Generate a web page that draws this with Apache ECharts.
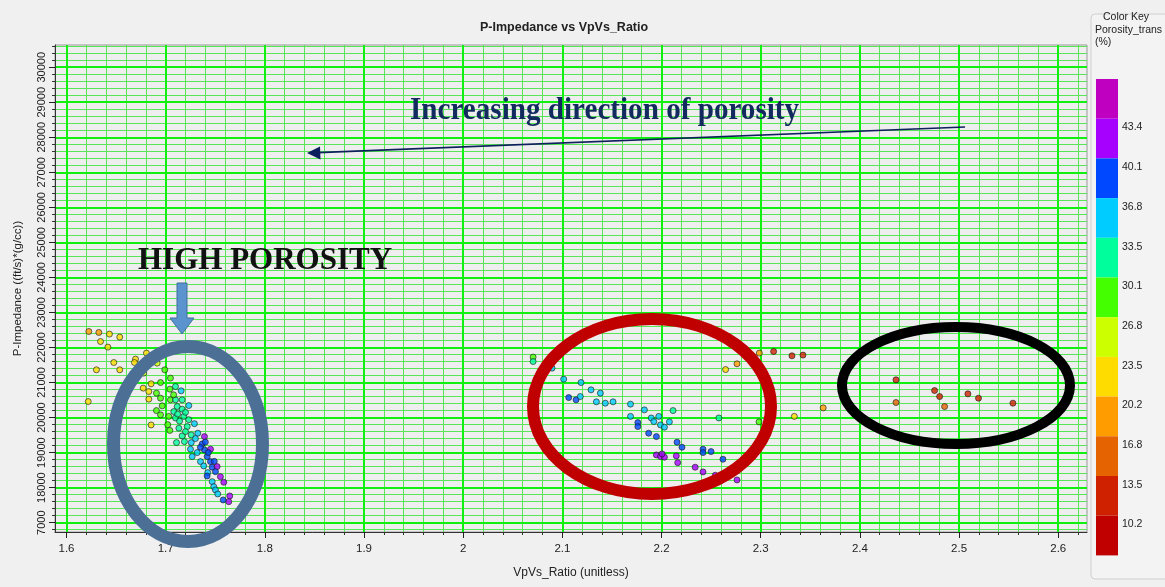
<!DOCTYPE html>
<html>
<head>
<meta charset="utf-8">
<script src="https://cdn.jsdelivr.net/npm/echarts@6/dist/echarts.min.js"></script>
<style>
html,body{margin:0;padding:0;background:#f0f0f0;}
#chart{width:1165px;height:587px;}
</style>
</head>
<body>
<div id="chart"></div>
<script>
// ---- data ----
const vpvs = [
  1.6225,1.6326,1.6433,1.6537,1.6343,1.6417,1.6806,1.6696,1.6685,1.6477,1.6914,1.6302,1.6537,1.6779,1.6991,1.7048,
  1.6853,1.6948,1.6773,1.6830,1.7099,1.7042,1.7156,1.6907,1.6830,1.6219,1.6948,1.7048,1.7099,1.7166,1.7233,1.6965,
  1.7116,1.6907,1.6948,1.7082,1.7166,1.7031,1.7099,1.7183,1.7233,1.6853,1.7021,1.7290,1.7042,1.7133,1.7217,1.7324,
  1.7391,1.7166,1.7257,1.7109,1.7189,1.7258,1.7368,1.7391,1.7452,1.7250,1.7318,1.7418,1.7267,1.7351,1.7452,1.7384,
  1.7469,1.7519,1.7502,1.7424,1.7552,1.7418,1.7586,1.7469,1.7485,1.7502,1.7525,1.7646,1.7636,1.7580,
  1.7200,1.7300,1.7350,1.7400,1.7140,1.7120,1.7200,1.7080,1.7430,1.7490,
  2.0705,2.0705,2.0896,2.1013,2.1188,2.1289,2.1383,2.1064,2.1138,2.1181,2.1343,2.1433,2.1511,2.1687,2.1827,2.2116,
  2.1687,2.1761,2.1761,2.1896,2.1972,2.1922,2.1989,2.2029,2.2079,2.1870,2.1948,2.2156,2.2206,2.1948,2.1989,2.2029,
  2.2005,2.2149,2.2163,2.2418,2.2418,2.2499,2.2619,2.2339,2.2418,2.2542,2.2761,2.2578,2.2983,2.2646,2.2761,2.2986,
  2.3130,2.3315,2.3426,2.3339,2.3630,
  2.4364,2.4364,2.4753,2.4804,2.4854,2.5089,2.5196,2.5543
];
const pImpedance = [
  22457,22429,22383,22297,22171,22011,21840,21669,21571,21571,21554,21363,21363,21269,21363,21126,
  20963,21000,20840,20743,20886,20811,20763,20697,20526,20457,20554,20506,20506,20506,20343,20334,
  20314,20200,20077,20171,20240,20034,19989,20034,19940,19789,19797,19826,19634,19697,19743,19554,
  19457,19477,19506,19286,19314,19286,19249,19077,19097,19097,19000,18886,18886,18743,18743,18620,
  18583,18600,18457,18429,18314,18334,18154,18171,18029,17934,17820,17763,17600,17649,
  19600,19400,19150,19300,19900,20100,20150,20650,19000,18750,
  21726,21600,21411,21097,21000,20791,20697,20571,20506,20600,20449,20411,20449,20383,20220,20200,
  20034,19857,19743,19989,20034,19886,19791,19726,19877,19554,19457,19297,19154,18934,18886,18869,
  18963,18906,18714,19097,19000,19029,18811,18583,18449,18354,18220,19989,19877,21371,21534,21840,
  21886,21763,21783,20034,20277,
  21077,20429,20771,20600,20314,20677,20554,20411
];
const porosity = [
  19,18,21,22,21,22,22,23,22,22,25,22,22,24,27,28,
  23,27,23,23,31,28,34,28,22,21,28,30,31,32,34,27,
  31,28,28,31,31,29,31,32,33,23,29,34,30,31,32,35,
  42,31,32,31,32,34,37,38,41,34,35,38,34,35,38,35,
  38,42,38,36,42,37,42,35,35,34,35,42,42,38,
  32,34,37,38,31,31,32,30,38,39,
  30,31,34,34,34,34,34,38,38,35,34,34,34,34,34,32,
  34,38,38,34,34,34,34,34,34,38,38,38,38,42,42,42,
  42,42,42,38,38,38,38,42,42,42,42,31,28,22,19,18,
  12,12,12,22,19,
  11,15,12,12,15,12,12,11
];

// axis ticks
const xTickValues = [1.6,1.7,1.8,1.9,2.0,2.1,2.2,2.3,2.4,2.5,2.6];
const xTickLabels = ['1.6','1.7','1.8','1.9','2','2.1','2.2','2.3','2.4','2.5','2.6'];
const yTickValues = [17000,18000,19000,20000,21000,22000,23000,24000,25000,26000,27000,28000,29000,30000];
const yTickLabels = ['7000','18000','19000','20000','21000','22000','23000','24000','25000','26000','27000','28000','29000','30000'];

// colour key
const colorBreaks = [10.2,13.5,16.8,20.2,23.5,26.8,30.1,33.5,36.8,40.1,43.4];
const colorKeyColors = ['#c00000','#cf2100','#e56300','#ff9c00','#ffdc00','#ccff00','#44ff00','#00ff9c','#00ccff','#0048ff','#a600ff','#c000c0'];

// ---- build ----
const points = vpvs.map((v, i) => [v, pImpedance[i], porosity[i]]);

const pieces = colorKeyColors.map((c, i) => {
  const p = { color: c };
  if (i > 0) p.gte = colorBreaks[i - 1];
  if (i < colorBreaks.length) { p.lt = colorBreaks[i]; p.label = String(colorBreaks[i]) + '\n\n'; }
  else p.label = ' ';
  return p;
});

const xMin = 1.5884, xMax = 2.629, yMin = 16734, yMax = 30634;
const xMinor = [];
for (let k = 0; k <= 51; k++) { xMinor.push(Math.round((1.6 + k * 0.02) * 1000) / 1000); }
const yMinor = [];
for (let v = 16800; v <= 30600; v += 200) yMinor.push(v);

const fontN = "'Liberation Sans Narrow','Liberation Sans',sans-serif";
const majorLine = { color: '#12f012', width: 2 };
const minorLine = { color: '#58e558', width: 1 };

const chart = echarts.init(document.getElementById('chart'), null, { renderer: 'canvas' });
chart.setOption({
  backgroundColor: '#f0f0f0',
  animation: false,
  title: {
    text: 'P-Impedance vs VpVs_Ratio',
    left: 480, top: 21, padding: 0,
    textStyle: { fontSize: 12.5, fontWeight: 'bold', color: '#222', fontFamily: 'Liberation Sans' }
  },
  grid: { left: 55, right: 78, top: 45, bottom: 55, show: true, backgroundColor: '#eeeeee', borderColor: '#9a9a9a', borderWidth: 1 },
  xAxis: [
    {
      type: 'value', min: xMin, max: xMax, position: 'bottom', z: 0,
      axisLine: { show: false },
      axisTick: { show: true, customValues: xMinor, length: 3, lineStyle: { color: '#333' } },
      axisLabel: { show: false },
      splitLine: { show: true, lineStyle: minorLine }
    },
    {
      type: 'value', min: xMin, max: xMax, position: 'bottom', z: 1,
      name: 'VpVs_Ratio (unitless)', nameLocation: 'middle', nameGap: 35,
      nameTextStyle: { fontSize: 12, color: '#222', fontFamily: fontN },
      axisLine: { show: true, onZero: false, lineStyle: { color: '#333' } },
      axisTick: { show: true, customValues: xTickValues, length: 6, lineStyle: { color: '#222' } },
      axisLabel: {
        customValues: xTickValues, margin: 11, fontSize: 11.5, color: '#222', fontFamily: fontN,
        formatter: v => { const j = xTickValues.findIndex(t => Math.abs(t - v) < 1e-6); return j >= 0 ? xTickLabels[j] : ''; }
      },
      splitLine: { show: true, lineStyle: majorLine }
    }
  ],
  yAxis: [
    {
      type: 'value', min: yMin, max: yMax, position: 'left', z: 0,
      axisLine: { show: false },
      axisTick: { show: true, customValues: yMinor, length: 3, lineStyle: { color: '#333' } },
      axisLabel: { show: false },
      splitLine: { show: true, lineStyle: minorLine }
    },
    {
      type: 'value', min: yMin, max: yMax, position: 'left', z: 1,
      name: 'P-Impedance ((ft/s)*(g/cc))', nameLocation: 'middle', nameGap: 31,
      nameTextStyle: { fontSize: 11.5, color: '#222', fontFamily: fontN },
      axisLine: { show: true, onZero: false, lineStyle: { color: '#333' } },
      axisTick: { show: true, customValues: yTickValues, length: 6, lineStyle: { color: '#222' } },
      axisLabel: {
        customValues: yTickValues, rotate: 90, margin: 8, fontSize: 11, color: '#222', fontFamily: fontN,
        formatter: v => { const j = yTickValues.indexOf(Math.round(v)); return j >= 0 ? yTickLabels[j] : ''; }
      },
      splitLine: { show: true, lineStyle: majorLine }
    }
  ],
  visualMap: {
    type: 'piecewise', dimension: 2, seriesIndex: 0, orient: 'vertical', align: 'left',
    left: 1096, top: 79, padding: 0, itemWidth: 22, itemHeight: 39.7, itemGap: 0, textGap: 4,
    itemSymbol: 'rect', selectedMode: false, hoverLink: false,
    pieces: pieces,
    textStyle: { fontSize: 10.5, color: '#222', fontFamily: 'Liberation Sans' }
  },
  series: [{
    type: 'scatter', xAxisIndex: 1, yAxisIndex: 1,
    data: points, symbol: 'circle', symbolSize: 6,
    itemStyle: { borderColor: '#1a1a1a', borderWidth: 0.8 },
    z: 3
  }],
  graphic: [
    { type: 'rect', z: -1, shape: { x: 1091, y: 14, width: 80, height: 565, r: 4 }, style: { fill: '#f3f3f3', stroke: '#d0d0d0', lineWidth: 1 } },
    { type: 'text', x: 1103, y: 12, z: 50, style: { text: 'Color Key', fontSize: 10.5, fill: '#222', fontFamily: 'Liberation Sans' } },
    { type: 'text', x: 1095, y: 25, z: 50, style: { text: 'Porosity_trans', fontSize: 10.5, fill: '#222', fontFamily: 'Liberation Sans' } },
    { type: 'text', x: 1095, y: 37, z: 50, style: { text: '(%)', fontSize: 10.5, fill: '#222', fontFamily: 'Liberation Sans' } },
    // annotations
    { type: 'text', x: 410, y: 95, z: 60, scaleX: 0.91, style: { text: 'Increasing direction of porosity', fontSize: 32, fontWeight: 'bold', fontFamily: "'Liberation Serif',serif", fill: '#132a5e' } },
    { type: 'line', z: 60, shape: { x1: 965, y1: 127, x2: 318, y2: 152.6 }, style: { stroke: '#0d1f5c', lineWidth: 1.6 } },
    { type: 'polygon', z: 60, shape: { points: [[307, 153], [320, 146.5], [320.5, 159.5]] }, style: { fill: '#0d1f5c' } },
    { type: 'text', x: 138, y: 245, z: 60, style: { text: 'HIGH POROSITY', fontSize: 31, fontWeight: 'bold', fontFamily: "'Liberation Serif',serif", fill: '#111' } },
    { type: 'polygon', z: 60, shape: { points: [[177, 283], [187, 283], [187, 318], [194, 318], [182, 334], [170, 318], [177, 318]] }, style: { fill: '#5b93cf', stroke: '#41719c', lineWidth: 1 } },
    { type: 'ellipse', z: 60, shape: { cx: 188, cy: 444, rx: 74.5, ry: 97.5 }, style: { fill: 'none', stroke: '#4b6f95', lineWidth: 13 } },
    { type: 'ellipse', z: 60, shape: { cx: 652, cy: 406.5, rx: 119, ry: 87.5 }, style: { fill: 'none', stroke: '#c00000', lineWidth: 12 } },
    { type: 'ellipse', z: 60, shape: { cx: 956, cy: 385.5, rx: 114, ry: 58.5 }, style: { fill: 'none', stroke: '#000000', lineWidth: 10 } }
  ]
});
</script>
</body>
</html>
